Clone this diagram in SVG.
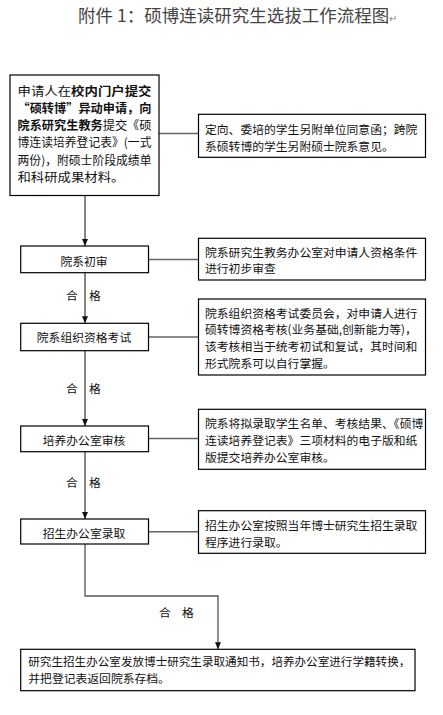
<svg xmlns="http://www.w3.org/2000/svg" width="443" height="715" viewBox="0 0 443 715">
<style>
  text { font-family: "Noto Sans CJK SC", "Noto Sans", sans-serif; fill: #111; }
  .box { fill: #fff; stroke: #000; stroke-width: 1.2; }
  .t12 { font-size: 11.8px; }
  .t13 { font-size: 12px; }
  .mid { text-anchor: middle; }
  .title { font-size: 17.5px; fill: #444; }
  .mark { font-size: 10px; fill: #888; }
  .arrow { fill: none; stroke: #222; stroke-width: 1.1; marker-end: url(#ah); }
  .side { fill: none; stroke: #666; stroke-width: 1.6; }
  .elbow { fill: none; stroke: #555; stroke-width: 1.3; marker-end: url(#ah); }
  .b { font-weight: bold; }
</style>
<defs>
  <marker id="ah" markerWidth="7" markerHeight="6" refX="7" refY="3" orient="auto" markerUnits="userSpaceOnUse">
    <path d="M0,0 L7,3 L0,6 z" fill="#111"/>
  </marker>
</defs>
<rect width="443" height="715" fill="#fff"/>

<text class="title" x="78" y="21.5" xml:space="preserve">附件 1：硕博连读研究生选拔工作流程图<tspan class="mark">↵</tspan></text>

<g id="connectors">
  <path class="arrow" d="M85,195.5 V246"/>
  <path class="arrow" d="M85,272.7 V323.3"/>
  <path class="arrow" d="M85,350.7 V426"/>
  <path class="arrow" d="M85,451.7 V519"/>
  <path class="elbow" d="M85,544 V596 H218 V649.3"/>
  <path class="side" d="M159,133.5 H198.5"/>
  <path class="side" d="M148.5,259.5 H198.5"/>
  <path class="side" d="M148.5,337 H198.5"/>
  <path class="side" d="M148.5,438.5 H198.5"/>
  <path class="side" d="M148.5,531.7 H198.5"/>
  <text class="t12 mid" x="72" y="299.5">合</text>
  <text class="t12 mid" x="95" y="299.5">格</text>
  <text class="t12 mid" x="72" y="392.5">合</text>
  <text class="t12 mid" x="95" y="392.5">格</text>
  <text class="t12 mid" x="72" y="487">合</text>
  <text class="t12 mid" x="95" y="487">格</text>
  <text class="t12 mid" x="165" y="616.5">合</text>
  <text class="t12 mid" x="188" y="616.5">格</text>
</g>

<g id="apply">
  <rect class="box" x="10" y="75" width="149" height="120.5"/>
  <text class="t13" x="17.5" y="95.5" textLength="134" lengthAdjust="spacingAndGlyphs">申请人在<tspan class="b">校内门户提交</tspan></text>
  <text class="t13 b" x="17.5" y="112.8" textLength="134" lengthAdjust="spacingAndGlyphs">“硕转博”异动申请，向</text>
  <text class="t13" x="17.5" y="130.1" textLength="134" lengthAdjust="spacingAndGlyphs"><tspan class="b">院系研究生教务</tspan>提交《硕</text>
  <text class="t13" x="17.5" y="147.4" textLength="134" lengthAdjust="spacingAndGlyphs">博连读培养登记表》(一式</text>
  <text class="t13" x="17.5" y="164.7" textLength="134" lengthAdjust="spacingAndGlyphs">两份)，附硕士阶段成绩单</text>
  <text class="t13" x="17.5" y="182" textLength="107" lengthAdjust="spacingAndGlyphs">和科研成果材料。</text>
</g>

<g id="note1">
  <rect class="box" x="198.5" y="114.3" width="227" height="43"/>
  <text class="t12" x="205" y="133.5">定向、委培的学生另附单位同意函；跨院</text>
  <text class="t12" x="205" y="150.5">系硕转博的学生另附硕士院系意见。</text>
</g>

<g id="review">
  <rect class="box" x="20.7" y="246" width="127.8" height="26.7"/>
  <text class="t12 mid" x="84" y="266">院系初审</text>
</g>

<g id="note2">
  <rect class="box" x="198.5" y="238.3" width="227" height="41.7"/>
  <text class="t12" x="205" y="256.5">院系研究生教务办公室对申请人资格条件</text>
  <text class="t12" x="205" y="273">进行初步审查</text>
</g>

<g id="exam">
  <rect class="box" x="20.7" y="323.3" width="127.8" height="27.4"/>
  <text class="t12 mid" x="84" y="341.5">院系组织资格考试</text>
</g>

<g id="note3">
  <rect class="box" x="198.5" y="299" width="227" height="76"/>
  <text class="t12" x="205" y="317.5">院系组织资格考试委员会，对申请人进行</text>
  <text class="t12" x="205" y="334">硕转博资格考核(业务基础,创新能力等)，</text>
  <text class="t12" x="205" y="351">该考核相当于统考初试和复试，其时间和</text>
  <text class="t12" x="205" y="367.5">形式院系可以自行掌握。</text>
</g>

<g id="office">
  <rect class="box" x="20.7" y="426" width="127.8" height="25.7"/>
  <text class="t12 mid" x="84" y="444.5">培养办公室审核</text>
</g>

<g id="note4">
  <rect class="box" x="198.5" y="409.3" width="227" height="60"/>
  <text class="t12" x="205" y="428">院系将拟录取学生名单、考核结果、《硕博</text>
  <text class="t12" x="205" y="445">连读培养登记表》三项材料的电子版和纸</text>
  <text class="t12" x="205" y="462">版提交培养办公室审核。</text>
</g>

<g id="admit">
  <rect class="box" x="20.7" y="519" width="127.8" height="25"/>
  <text class="t12 mid" x="84" y="537.5">招生办公室录取</text>
</g>

<g id="note5">
  <rect class="box" x="198.5" y="510.7" width="227" height="42.6"/>
  <text class="t12" x="205" y="529.5">招生办公室按照当年博士研究生招生录取</text>
  <text class="t12" x="205" y="547">程序进行录取。</text>
</g>

<g id="final">
  <rect class="box" x="20.7" y="649.3" width="394.3" height="41.4"/>
  <text class="t12" x="28.3" y="665.5" textLength="382" lengthAdjust="spacingAndGlyphs">研究生招生办公室发放博士研究生录取通知书，培养办公室进行学籍转换，</text>
  <text class="t12" x="28.3" y="683">并把登记表返回院系存档。</text>
</g>
</svg>
